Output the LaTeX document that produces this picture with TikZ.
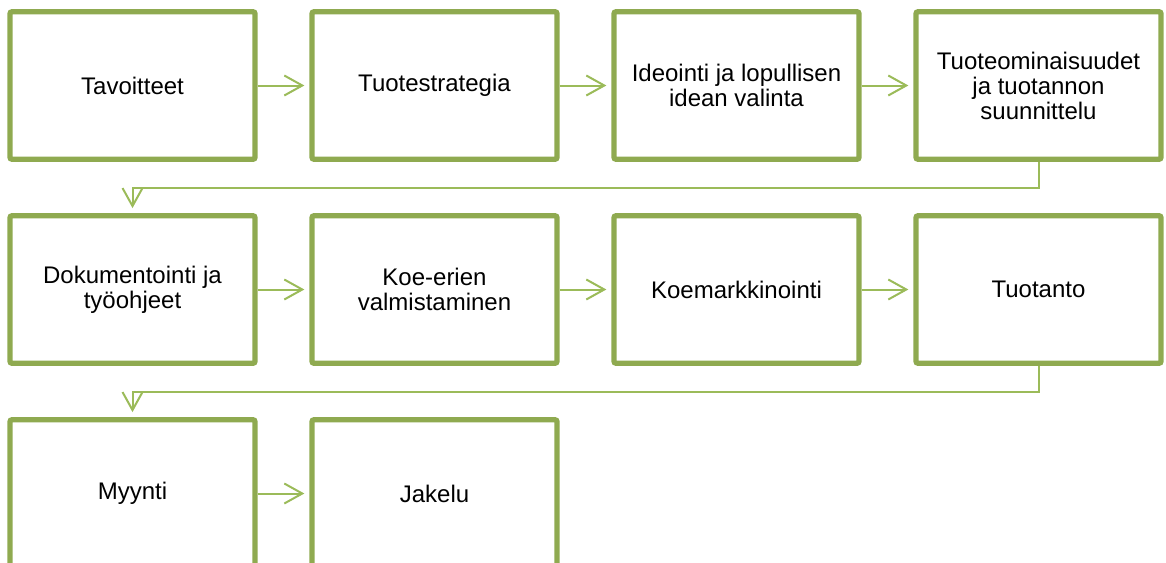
\documentclass[tikz,border=0pt]{standalone}
\usepackage{fontspec}
\setmainfont{Liberation Sans}
\usetikzlibrary{arrows.meta,calc}
\definecolor{boxgreen}{RGB}{143,170,80}
\definecolor{arrowgreen}{RGB}{155,187,89}
\begin{document}
\begin{tikzpicture}[
                x=0.5pt, y=-0.5pt,
                ->,
                >={Straight Barb[length=9pt,width=10pt]},
                node distance=151pt,
                stepbox/.style={draw=boxgreen, line width=2.65pt, rounded corners=1pt,
                  minimum width=122.5pt, minimum height=73.75pt, inner sep=0pt,
                  align=center, font=\fontsize{12}{12.5}\selectfont},
                link/.style={draw=arrowgreen, line width=1pt, shorten >=2.5pt},
                every edge/.style={link}
                ]
            \useasboundingbox (0,0) rectangle (1166,562);
            % Nodes
            \node[stepbox] (tav) at (132.5,85.5) {Tavoitteet};
            \node[stepbox] (str) [right of=tav] {Tuotestrategia};
            \node[stepbox] (ide) [right of=str] {Ideointi ja lopullisen\\idean valinta};
            \node[stepbox] (omi) [right of=ide] {Tuoteominaisuudet\\ja tuotannon\\suunnittelu};
            \node[stepbox, node distance=102pt] (dok) [below of=tav] {Dokumentointi ja\\työohjeet};
            \node[stepbox] (koe) [right of=dok] {Koe-erien\\valmistaminen};
            \node[stepbox] (mar) [right of=koe] {Koemarkkinointi};
            \node[stepbox] (tuo) [right of=mar] {Tuotanto};
            \node[stepbox, node distance=102pt] (myy) [below of=dok] {Myynti};
            \node[stepbox] (jak) [right of=myy] {Jakelu};
            % Edges
            \path
            (tav) edge (str)
            (str) edge (ide)
            (ide) edge (omi)
            (dok) edge (koe)
            (koe) edge (mar)
            (mar) edge (tuo)
            (myy) edge (jak);
            % Row changes
            \coordinate (turn1) at ($(omi.south)!.5!(tuo.north)$);
            \coordinate (turn2) at ($(tuo.south)!.5!(tuo.south |- myy.north)$);
            \draw[link] (omi.south) -- (turn1) -| (dok.north);
            \draw[link] (tuo.south) -- (turn2) -| (myy.north);

            \end{tikzpicture}
\end{document}
